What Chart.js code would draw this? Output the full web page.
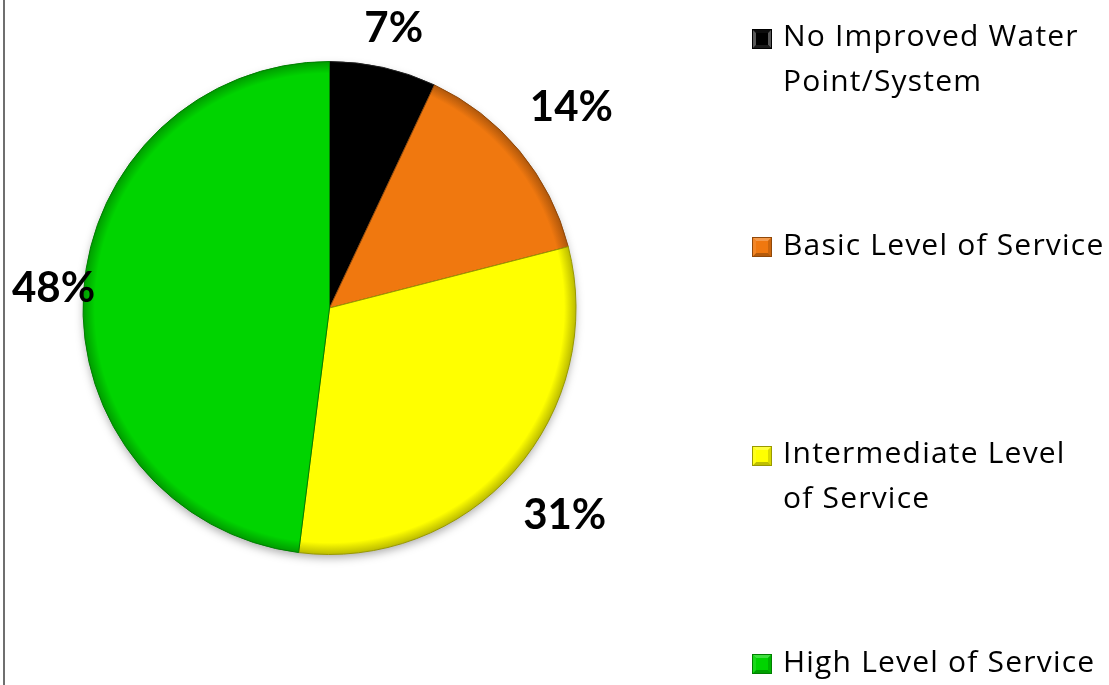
<!DOCTYPE html>
<html>
<head>
<meta charset="utf-8">
<script src="https://cdn.jsdelivr.net/npm/chart.js@4"></script>
<style>
    body { margin: 0; background: #fff; }
    #wrap { position: relative; width: 1109px; height: 685px; }
    #wrap::before { content: ''; position: absolute; left: 3px; top: 0; bottom: 0; border-left: 2px solid #6f6f6f; }
</style>
</head>
<body>
<div id="wrap"><canvas id="pieChart"></canvas></div>
<script>
//categories (legend lines), shares in % and slice colours
const categories = [['No Improved Water', 'Point/System'], ['Basic Level of Service'], ['Intermediate Level', 'of Service'], ['High Level of Service']];
const shares = [7, 14, 31, 48];
const sliceColors = ['#000000', '#F0780F', '#FFFF00', '#00D400'];

const LABEL_FONT = 'bold 42px Lato';
const LEGEND_FONT = '30px "Open Sans"';

//darken / lighten a hex colour by factor
function shade(hex, f) {
    const n = parseInt(hex.slice(1), 16);
    let r = (n >> 16) & 255, g = (n >> 8) & 255, b = n & 255;
    if (f <= 1) {
        r *= f; g *= f; b *= f;
    } else {
        const t = f - 1;
        r += (255 - r) * t; g += (255 - g) * t; b += (255 - b) * t;
    }
    return 'rgb(' + Math.round(r) + ',' + Math.round(g) + ',' + Math.round(b) + ')';
}

//radial fill so the rim of every slice gets a bit darker (bevel look)
function sliceFill(context) {
    const chart = context.chart;
    const base = sliceColors[context.dataIndex];
    const area = chart.chartArea;
    if (!area) return base;
    const cx = (area.left + area.right) / 2;
    const cy = (area.top + area.bottom) / 2;
    const r = Math.min(area.width, area.height) / 2;
    const g = chart.ctx.createRadialGradient(cx, cy, 0, cx, cy, r);
    g.addColorStop(0, base);
    g.addColorStop(0.95, base);
    g.addColorStop(1, shade(base, 0.72));
    return g;
}

//soft shadow under the pie
const pieShadow = {
    id: 'pieShadow',
    beforeDatasetsDraw(chart) {
        const arc = chart.getDatasetMeta(0).data[0];
        if (!arc) return;
        const {x, y, outerRadius} = arc.getProps(['x', 'y', 'outerRadius'], true);
        const ctx = chart.ctx;
        ctx.save();
        ctx.shadowColor = 'rgba(0, 0, 0, 0.35)';
        ctx.shadowBlur = 10;
        ctx.shadowOffsetY = 4;
        ctx.beginPath();
        ctx.arc(x, y, outerRadius - 1, 0, Math.PI * 2);
        ctx.fillStyle = '#fff';
        ctx.fill();
        ctx.restore();
    }
};

//percentage labels outside the slices
const outsideLabels = {
    id: 'outsideLabels',
    afterDatasetsDraw(chart) {
        const ctx = chart.ctx;
        ctx.save();
        ctx.font = LABEL_FONT;
        ctx.fillStyle = '#000';
        ctx.textAlign = 'center';
        ctx.textBaseline = 'middle';
        chart.getDatasetMeta(0).data.forEach((arc, i) => {
            const p = arc.getProps(['x', 'y', 'startAngle', 'endAngle', 'outerRadius'], true);
            const mid = (p.startAngle + p.endAngle) / 2;
            const ux = Math.cos(mid), uy = Math.sin(mid);
            const text = shares[i] + '%';
            const hw = ctx.measureText(text).width / 2, hh = 18;
            const d = p.outerRadius + 24 + hw * Math.abs(ux) + hh * Math.abs(uy);
            let lx = p.x + ux * d, ly = p.y + uy * d;
            lx = Math.max(lx, 12 + hw);
            ly = Math.max(ly, 10 + hh);
            ctx.fillText(text, lx, ly);
        });
        ctx.restore();
    }
};

//legend on the right, entries spread over the height
const sideLegend = {
    id: 'sideLegend',
    afterDraw(chart) {
        const ctx = chart.ctx;
        const mx = 752, box = 20, tx = 783, lineH = 45, top = 15, step = 208.5;
        ctx.save();
        ctx.font = LEGEND_FONT;
        ctx.letterSpacing = '1.2px';
        ctx.textBaseline = 'middle';
        categories.forEach((lines, i) => {
            const y0 = top + i * step + lineH / 2;
            const c = sliceColors[i];
            const dark = c === '#000000';
            const bx = mx, by = Math.round(y0 - box / 2) + 1;
            //pyramid style marker
            ctx.fillStyle = c;
            ctx.fillRect(bx, by, box, box);
            const faces = [
                [[bx, by], [bx + box, by], shade(c, dark ? 1.05 : 1.25)],
                [[bx + box, by], [bx + box, by + box], shade(c, dark ? 1.35 : 0.85)],
                [[bx + box, by + box], [bx, by + box], shade(c, dark ? 1.1 : 0.75)],
                [[bx, by + box], [bx, by], shade(c, dark ? 1.35 : 1.1)]
            ];
            faces.forEach(([a, b, col]) => {
                ctx.beginPath();
                ctx.moveTo(a[0], a[1]);
                ctx.lineTo(b[0], b[1]);
                ctx.lineTo(bx + box / 2, by + box / 2);
                ctx.closePath();
                ctx.fillStyle = col;
                ctx.fill();
            });
            ctx.fillStyle = c;
            ctx.fillRect(bx + 4, by + 4, box - 8, box - 8);
            ctx.strokeStyle = shade(c, 0.6);
            ctx.lineWidth = 1;
            ctx.strokeRect(bx + 0.5, by + 0.5, box - 1, box - 1);
            ctx.fillStyle = '#000';
            lines.forEach((t, j) => ctx.fillText(t, tx, y0 + j * lineH));
        });
        ctx.restore();
    }
};

const pie = document.getElementById('pieChart');

new Chart(pie, {
    type: 'pie',
    data: {
        labels: categories.map(c => c.join(' ')),
        datasets: [{
            data: shares,
            backgroundColor: sliceFill,
            borderColor: sliceColors.map(c => shade(c === '#000000' ? '#333333' : c, 0.6)),
            borderWidth: 1
        }]
    },
    options: {
        responsive: true,
        maintainAspectRatio: false,
        animation: false,
        layout: {
            padding: { left: 82, right: 532, top: 61, bottom: 130 }
        },
        plugins: {
            legend: { display: false },
            tooltip: { enabled: false }
        }
    },
    plugins: [pieShadow, outsideLabels, sideLegend]
});
</script>
</body>
</html>
